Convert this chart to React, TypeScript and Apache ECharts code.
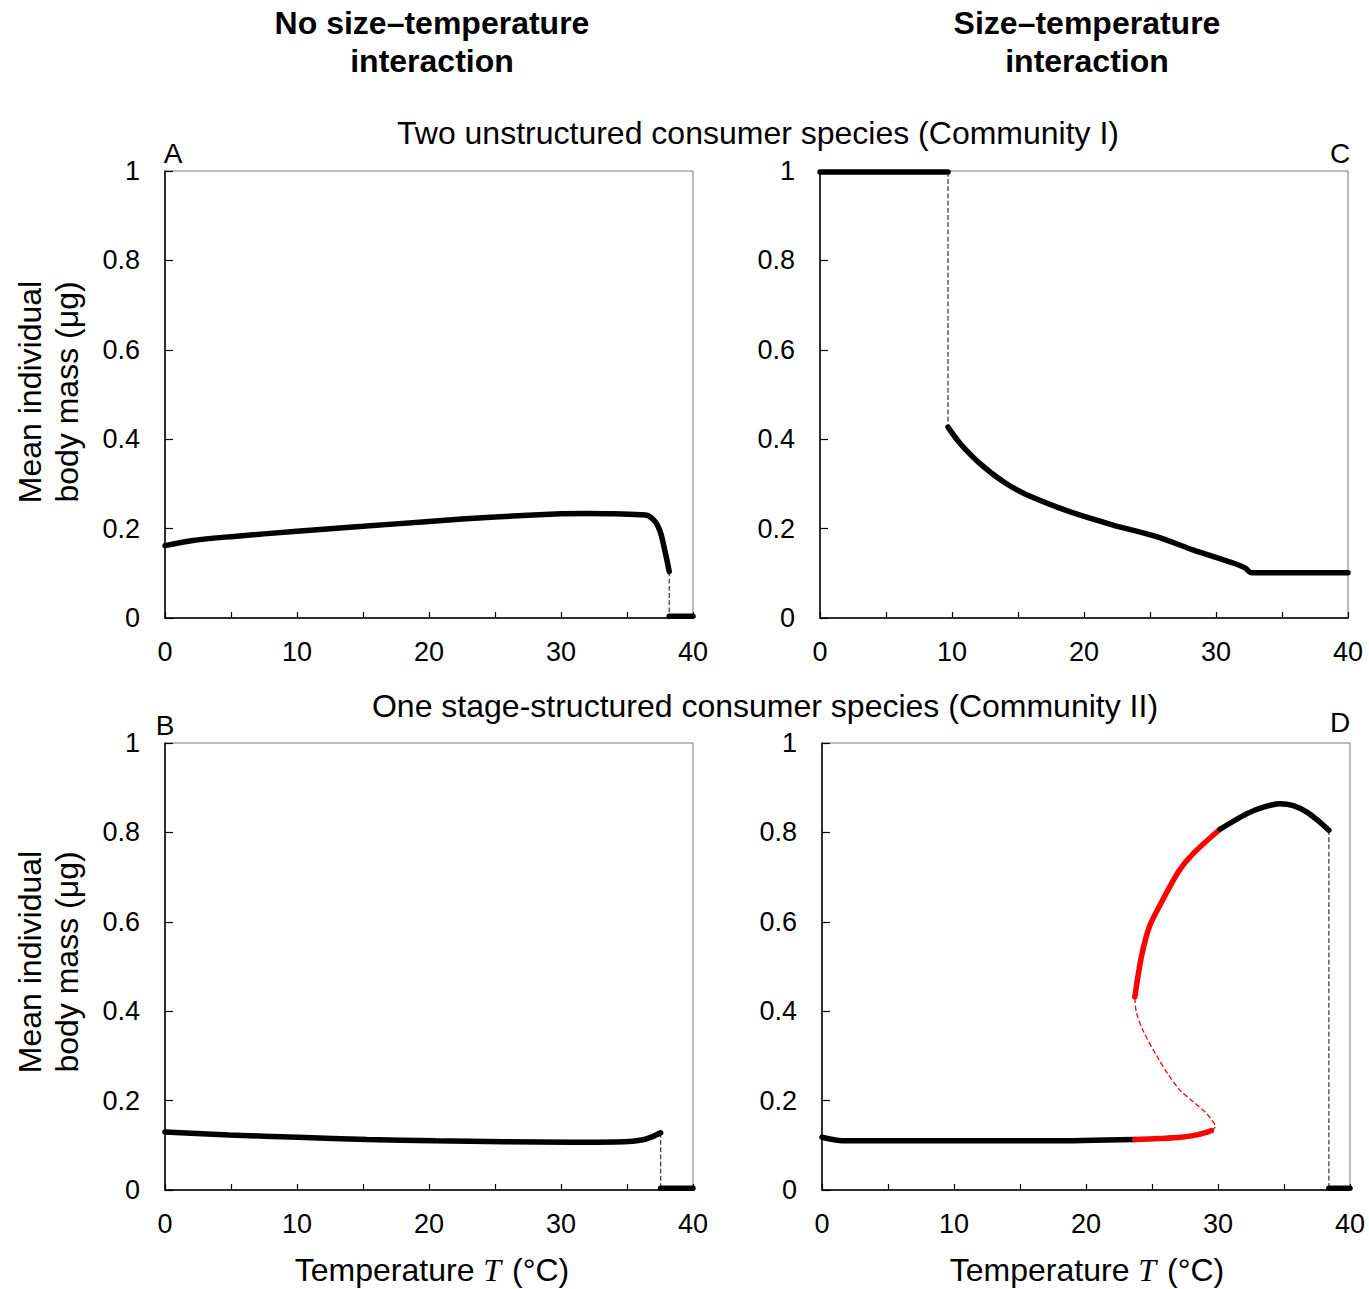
import React, { useEffect, useRef } from "react";
import * as echarts from "echarts";

// ---------- data ----------
const xTicks = [0, 10, 20, 30, 40];
const yTicks = [0, 0.2, 0.4, 0.6, 0.8, 1];

// Panel A
const aCurve = [[0,0.162],[2,0.173],[5,0.182],[10,0.194],[15,0.205],[20,0.216],[25,0.226],[30,0.233],[32,0.234],[34,0.233],[36,0.231],[36.6,0.229],[37.0,0.220],[37.3,0.208],[37.6,0.185],[38.2,0.104]];
const aDrop = [[38.2,0.104],[38.2,0]];
const aZero = [[38.2,0.004],[40,0.004]];

// Panel C
const cTop = [[0,0.998],[9.7,0.998]];
const cDrop = [[9.7,0.998],[9.7,0.427]];
const cCurve = [[9.7,0.427],[10.6,0.391],[12.1,0.346],[14.1,0.301],[16.1,0.270],[19.2,0.235],[22.2,0.208],[25.5,0.182],[28.3,0.152],[31.3,0.123],[32.2,0.112],[32.7,0.101],[40,0.101]];

// Panel B
const bCurve = [[0,0.130],[4.9,0.123],[10.1,0.118],[15.3,0.113],[20.5,0.110],[25.7,0.108],[30.9,0.107],[34.8,0.108],[36.1,0.112],[36.9,0.119],[37.55,0.128]];
const bDrop = [[37.55,0.128],[37.55,0]];
const bZero = [[37.55,0.004],[40,0.004]];

// Panel D
const dLowBlack = [[0,0.118],[1,0.112],[2,0.110],[9.5,0.110],[17.1,0.110],[23.7,0.113]];
const dLowRed = [[23.7,0.113],[25.5,0.115],[27.2,0.118],[28.5,0.124],[29.5,0.133]];
const dUnstable = [[29.5,0.133],[29.8,0.142],[29.5,0.158],[29.1,0.172],[28.1,0.198],[27.1,0.224],[26.2,0.260],[25.4,0.298],[24.3,0.358],[23.8,0.400],[23.7,0.432]];
const dUpRed = [[23.7,0.432],[24.2,0.522],[24.8,0.589],[25.6,0.637],[27.0,0.712],[28.1,0.752],[30.15,0.807]];
const dUpBlack = [[30.15,0.807],[32.2,0.842],[33.5,0.857],[34.7,0.864],[35.7,0.860],[36.7,0.846],[37.6,0.826],[38.4,0.805]];
const dDrop = [[38.4,0.805],[38.4,0]];
const dZero = [[38.4,0.004],[40,0.004]];

const FONT = "Arial, 'Liberation Sans', sans-serif";

export default function App() {
  const ref = useRef<HTMLDivElement>(null);
  useEffect(() => {
    if (!ref.current) return;
    const chart = echarts.init(ref.current, undefined, { renderer: "svg" });

    const grids = [
      { left: 165, top: 171, width: 528, height: 447 },
      { left: 820, top: 171, width: 528, height: 447 },
      { left: 165, top: 743, width: 528, height: 447 },
      { left: 822, top: 743, width: 528, height: 447 },
    ];

    const xAxes = grids.map((_, i) => ({
      gridIndex: i, type: "value", min: 0, max: 40, interval: 5,
      axisLine: { show: true, lineStyle: { color: "#000", width: 1.5 } },
      axisTick: { show: true, inside: true, length: 6, lineStyle: { color: "#000", width: 1.2 } },
      splitLine: { show: false },
      axisLabel: {
        margin: 20, fontSize: 27, color: "#000", fontFamily: FONT,
        formatter: (v: number) => (xTicks.indexOf(v) >= 0 ? String(v) : ""),
      },
    }));
    const yAxes = grids.map((_, i) => ({
      gridIndex: i, type: "value", min: 0, max: 1, interval: 0.2,
      axisLine: { show: true, lineStyle: { color: "#000", width: 1.5 } },
      axisTick: { show: true, inside: true, length: 8, lineStyle: { color: "#000", width: 1.2 } },
      splitLine: { show: false },
      axisLabel: {
        margin: 25, fontSize: 27, color: "#000", fontFamily: FONT,
        formatter: (v: number) => {
          const t = yTicks.find((y) => Math.abs(y - v) < 1e-6);
          return t === undefined ? "" : String(t);
        },
      },
    }));

    const line = (data: number[][], gi: number, color: string, width: number, type: string = "solid", smooth: any = false) => ({
      type: "line", data, xAxisIndex: gi, yAxisIndex: gi, symbol: "none", smooth,
      lineStyle: { color, width, type, cap: type === "solid" ? "round" : "butt" },
      z: type === "solid" ? 3 : 2,
    });

    const THICK = 5.5;
    const series = [
      line(aCurve, 0, "#000", THICK, "solid", 0.3),
      line(aDrop, 0, "#333", 1.2, "dashed"),
      line(aZero, 0, "#000", THICK),
      line(cTop, 1, "#000", THICK),
      line(cDrop, 1, "#333", 1.2, "dashed"),
      line(cCurve, 1, "#000", THICK, "solid", 0.3),
      line(bCurve, 2, "#000", THICK, "solid", 0.3),
      line(bDrop, 2, "#333", 1.2, "dashed"),
      line(bZero, 2, "#000", THICK),
      line(dLowBlack, 3, "#000", THICK, "solid", 0.3),
      line(dLowRed, 3, "#ff0000", THICK, "solid", 0.3),
      line(dUnstable, 3, "#ff0000", 1.3, "dashed", 0.3),
      line(dUpRed, 3, "#ff0000", THICK, "solid", 0.3),
      line(dUpBlack, 3, "#000", THICK, "solid", 0.3),
      line(dDrop, 3, "#333", 1.2, "dashed"),
      line(dZero, 3, "#000", THICK),
    ];

    const txt = (text: string, x: number, y: number, size: number, weight: string = "normal", align: string = "center", extra: any = {}) => ({
      type: "text", x, y, silent: true,
      style: { text, fontSize: size, fontWeight: weight, fontFamily: FONT, fill: "#000", align, verticalAlign: "middle", lineHeight: 38, ...extra },
    });

    const yName = (cy: number) => ({
      type: "text", x: 48, y: cy, rotation: Math.PI / 2, silent: true,
      style: { text: "Mean individual\nbody mass (μg)", fontSize: 32, fontFamily: FONT, fill: "#000", align: "center", verticalAlign: "middle", lineHeight: 37 },
    });
    const xName = (cx: number) => ({
      type: "text", x: cx, y: 1270, silent: true,
      style: {
        text: "{a|Temperature }{t|T}{a| (°C)}", align: "center", verticalAlign: "middle",
        rich: {
          a: { fontSize: 32, fontFamily: FONT, fill: "#000" },
          t: { fontSize: 32, fontFamily: "'Liberation Serif', 'Times New Roman', serif", fontStyle: "italic", fill: "#000", padding: [0, 2, 0, 0] },
        },
      },
    });

    const graphic = [
      txt("No size–temperature\ninteraction", 432, 42, 32, "bold"),
      txt("Size–temperature\ninteraction", 1087, 42, 32, "bold"),
      txt("Two unstructured consumer species (Community I)", 758, 133, 32),
      txt("One stage-structured consumer species (Community II)", 765, 706, 32),
      txt("A", 173, 153, 28),
      txt("C", 1340, 153, 28),
      txt("B", 165, 725, 28),
      txt("D", 1340, 722, 28),
      yName(392),
      yName(962),
      xName(432),
      xName(1087),
    ];

    chart.setOption({
      animation: false,
      backgroundColor: "#fff",
      grid: grids.map((g) => ({ ...g, show: true, borderColor: "#777", borderWidth: 1, backgroundColor: "transparent" })),
      xAxis: xAxes,
      yAxis: yAxes,
      series,
      graphic,
    } as any);
    return () => chart.dispose();
  }, []);
  return <div ref={ref} style={{ position: "absolute", left: 0, top: 0, width: 1369, height: 1289 }} />;
}
